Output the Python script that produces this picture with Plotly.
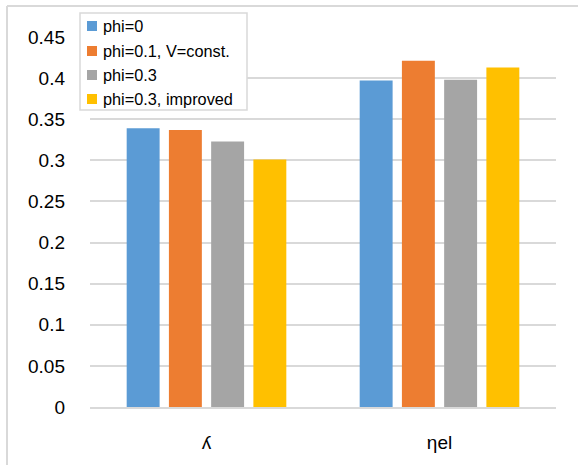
import plotly.graph_objects as go

categories = ["ʎ", "ηel"]
series_names = ["phi=0", "phi=0.1, V=const.", "phi=0.3", "phi=0.3, improved"]
series_values = [
    [0.339, 0.397],
    [0.337, 0.421],
    [0.323, 0.398],
    [0.301, 0.413],
]
series_colors = ["#5B9BD5", "#ED7D31", "#A5A5A5", "#FFC000"]
y_ticks = [0, 0.05, 0.1, 0.15, 0.2, 0.25, 0.3, 0.35, 0.4, 0.45]
y_tick_labels = ["0", "0.05", "0.1", "0.15", "0.2", "0.25", "0.3", "0.35", "0.4", "0.45"]

FONT = "Liberation Sans, Arial, sans-serif"
GRID = "#D9D9D9"

fig = go.Figure()
for name, vals, col in zip(series_names, series_values, series_colors):
    fig.add_trace(go.Bar(
        x=categories, y=vals, name=name, showlegend=False,
        marker=dict(color=col, line=dict(width=0)),
    ))

W, H = 578, 465
ml, mr, mt, mb = 90, 22, 37, 58
pw, ph = W - ml - mr, H - mt - mb


def px_x(x):
    return (x - ml) / pw


def px_y(y):
    return (H - mb - y) / ph


shapes = [
    # chart-area frame: top and left edges
    dict(type="line", xref="paper", yref="paper",
         x0=px_x(7), x1=px_x(W), y0=px_y(6), y1=px_y(6),
         line=dict(color=GRID, width=2)),
    dict(type="line", xref="paper", yref="paper",
         x0=px_x(7), x1=px_x(7), y0=px_y(6), y1=px_y(H),
         line=dict(color=GRID, width=2)),
    # legend box
    dict(type="rect", xref="paper", yref="paper",
         x0=px_x(80), x1=px_x(247), y0=px_y(110), y1=px_y(13),
         fillcolor="white", line=dict(color=GRID, width=1.5), layer="above"),
]
annotations = []
row_y = [26, 51, 75, 99]
for name, col, yc in zip(series_names, series_colors, row_y):
    shapes.append(dict(type="rect", xref="paper", yref="paper",
                       x0=px_x(87), x1=px_x(97), y0=px_y(yc + 5), y1=px_y(yc - 5),
                       fillcolor=col, line=dict(width=0), layer="above"))
    annotations.append(dict(text=name, xref="paper", yref="paper",
                            x=px_x(101), y=px_y(yc), xanchor="left", yanchor="middle",
                            showarrow=False, font=dict(size=16.3, family=FONT, color="#000")))

fig.update_layout(
    width=W, height=H,
    margin=dict(l=ml, r=mr, t=mt, b=mb),
    paper_bgcolor="white", plot_bgcolor="white",
    barmode="group", bargap=0.275, bargroupgap=0.22,
    font=dict(family=FONT, size=19, color="#000000"),
    showlegend=False,
    xaxis=dict(
        showgrid=False, showline=True, linecolor=GRID, linewidth=2,
        ticks="", tickfont=dict(size=19), ticklabelstandoff=17, fixedrange=True,
    ),
    yaxis=dict(
        range=[0, 0.45], tickvals=y_ticks, ticktext=y_tick_labels,
        showgrid=True, gridcolor=GRID, gridwidth=2,
        zeroline=False, showline=False, ticks="",
        ticklabelstandoff=24, tickfont=dict(size=19),
    ),
    shapes=shapes,
    annotations=annotations,
)

fig.write_html("out.html")
